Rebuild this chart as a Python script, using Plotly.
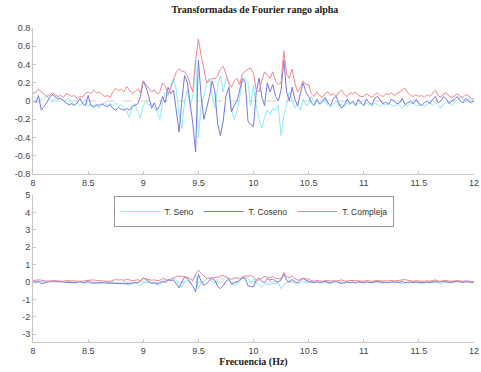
import numpy as np
import plotly.graph_objects as go

# Frequency grid (Hz), 0.025 Hz resolution over the alpha band
freq = np.round(np.arange(8.0, 12.0001, 0.025), 3)

# Sine transform
t_seno = [
    0.05, 0.02, -0.02, 0.01, 0.04, 0.06, 0.02, -0.01, 0.03, 0.05, 0.02, 0.00, 0.01, 0.03, -0.01, -0.04, -0.02, -0.05, -0.03, 0.02,
    -0.06, -0.03, -0.08, -0.05, -0.08, -0.04, -0.02, -0.05, -0.03, -0.05, -0.02, -0.06, -0.04, -0.08, -0.12, -0.18, -0.06, -0.03, -0.10, -0.19,
    -0.05, 0.00, -0.05, -0.03, -0.08, -0.12, -0.20, -0.02, 0.10, 0.05, 0.18, 0.25, 0.12, -0.15, -0.30, 0.00, 0.12, -0.05, 0.05, 0.45,
    -0.40, -0.05, 0.05, 0.20, 0.25, 0.05, -0.08, 0.15, 0.28, 0.10, 0.25, 0.22, -0.10, -0.20, -0.12, 0.05, 0.22, 0.25, 0.20, -0.05,
    0.18, -0.05, -0.20, -0.30, -0.18, -0.10, -0.15, -0.08, -0.10, -0.05, -0.38, -0.15, -0.05, 0.10, 0.02, -0.08, -0.03, -0.10, 0.02, -0.05,
    -0.03, 0.05, -0.02, 0.00, -0.04, -0.02, 0.02, -0.05, -0.07, -0.03, 0.00, -0.05, -0.03, -0.06, -0.02, -0.04, -0.01, -0.05, -0.03, -0.02,
    -0.05, -0.02, -0.04, -0.06, -0.02, -0.04, -0.06, -0.03, -0.05, -0.02, -0.04, -0.06, -0.03, -0.05, -0.08, -0.04, -0.06, -0.03, -0.02, -0.05,
    -0.05, -0.03, -0.06, -0.04, -0.02, -0.05, -0.02, -0.04, -0.08, -0.03, -0.01, -0.02, -0.05, -0.01, 0.02, 0.04, 0.02, -0.01, 0.03, 0.01,
    0.00,
]

# Cosine transform
t_coseno = [
    0.00, -0.02, 0.06, -0.10, -0.06, -0.02, 0.04, 0.07, 0.05, 0.02, 0.03, 0.00, -0.02, -0.04, -0.03, -0.05, -0.02, 0.03, -0.03, -0.05,
    0.06, -0.05, -0.06, -0.04, -0.05, -0.03, -0.05, -0.06, -0.04, -0.08, -0.10, -0.07, -0.09, -0.10, -0.08, -0.10, -0.06, -0.05, -0.03, 0.05,
    0.22, 0.15, 0.05, -0.08, -0.02, -0.10, -0.05, 0.05, -0.02, 0.15, 0.08, 0.12, -0.10, -0.34, 0.00, 0.28, 0.20, 0.00, -0.25, -0.56,
    0.45, 0.05, -0.20, -0.08, 0.05, 0.22, 0.10, -0.25, -0.38, -0.22, 0.05, 0.15, -0.12, -0.05, 0.00, 0.12, 0.25, 0.20, -0.22, -0.26,
    -0.28, 0.10, 0.25, 0.05, -0.05, 0.20, 0.10, 0.18, 0.05, 0.00, 0.12, 0.45, 0.10, 0.00, 0.15, 0.02, -0.05, 0.08, 0.20, 0.10,
    0.05, -0.02, -0.05, 0.02, -0.03, 0.00, 0.04, -0.02, -0.05, 0.03, 0.05, -0.03, -0.08, -0.04, 0.02, -0.03, 0.00, -0.05, 0.02, -0.02,
    -0.05, 0.02, -0.02, -0.04, 0.03, 0.05, 0.01, -0.03, -0.01, -0.04, 0.02, 0.00, -0.03, -0.02, 0.03, -0.04, -0.02, 0.00, -0.03, 0.02,
    -0.03, -0.05, -0.02, 0.00, -0.03, 0.02, 0.05, -0.02, 0.00, 0.05, 0.02, -0.03, 0.00, 0.02, 0.05, 0.00, -0.02, 0.03, 0.00, -0.02,
    0.00,
]

# Complex transform (magnitude)
t_compleja = [
    0.08, 0.10, 0.13, 0.10, 0.07, 0.05, 0.06, 0.09, 0.07, 0.05, 0.06, 0.04, 0.08, 0.07, 0.05, 0.06, 0.03, 0.05, 0.04, 0.08,
    0.10, 0.08, 0.12, 0.09, 0.10, 0.07, 0.05, 0.06, 0.04, 0.10, 0.14, 0.11, 0.13, 0.10, 0.16, 0.12, 0.08, 0.10, 0.13, 0.09,
    0.22, 0.18, 0.14, 0.10, 0.12, 0.08, 0.10, 0.20, 0.16, 0.08, 0.14, 0.24, 0.32, 0.35, 0.33, 0.32, 0.28, 0.18, 0.10, 0.45,
    0.68, 0.50, 0.35, 0.20, 0.22, 0.25, 0.24, 0.28, 0.35, 0.38, 0.30, 0.20, 0.15, 0.22, 0.25, 0.18, 0.30, 0.33, 0.35, 0.36,
    0.30, 0.12, 0.10, 0.22, 0.32, 0.28, 0.25, 0.32, 0.22, 0.18, 0.20, 0.55, 0.30, 0.25, 0.35, 0.20, 0.10, 0.15, 0.22, 0.18,
    0.18, 0.08, 0.05, 0.10, 0.06, 0.04, 0.08, 0.10, 0.06, 0.08, 0.05, 0.10, 0.12, 0.07, 0.05, 0.09, 0.08, 0.10, 0.06, 0.05,
    0.05, 0.08, 0.06, 0.04, 0.07, 0.09, 0.06, 0.05, 0.08, 0.07, 0.09, 0.06, 0.08, 0.10, 0.12, 0.14, 0.09, 0.06, 0.05, 0.07,
    0.05, 0.06, 0.04, 0.07, 0.05, 0.08, 0.12, 0.06, 0.04, 0.08, 0.09, 0.05, 0.04, 0.06, 0.08, 0.05, 0.04, 0.07, 0.06, 0.03,
    0.02,
]

series_names = ["T. Seno", "T. Coseno", "T. Compleja"]
series_colors = ["#8eeaf4", "#7878ea", "#f4848e"]

x_ticks = [8, 8.5, 9, 9.5, 10, 10.5, 11, 11.5, 12]
x_tick_text = ["8", "8.5", "9", "9.5", "10", "10.5", "11", "11.5", "12"]
top_y_ticks = [0.8, 0.6, 0.4, 0.2, 0, -0.2, -0.4, -0.6, -0.8]
top_y_text = ["0.8", "0.6", "0.4", "0.2", "0", "-0.2", "-0.4", "-0.6", "-0.8"]
bot_y_ticks = [5, 4, 3, 2, 1, 0, -1, -2, -3]
bot_y_text = ["5", "4", "3", "2", "1", "0", "-1", "-2", "-3"]

fig = go.Figure()
data = [t_seno, t_coseno, t_compleja]

for row_axes, show in (("", False), ("2", True)):
    for name, vals, col in zip(series_names, data, series_colors):
        fig.add_trace(go.Scatter(
            x=freq, y=vals, mode="lines", name=name,
            line=dict(color=col, width=1),
            xaxis="x" + row_axes, yaxis="y" + row_axes,
            showlegend=show,
        ))

axis_common = dict(
    showgrid=False, zeroline=False, showline=True, linecolor="#c8c8c8", linewidth=1,
    ticks="inside", ticklen=3, tickcolor="#c8c8c8", ticklabeloverflow="allow",
    automargin=False,
    tickfont=dict(family="Liberation Sans, Arial", size=9, color="#444444"),
)

fig.update_layout(
    width=481, height=372,
    margin=dict(l=33, r=7, t=28, b=30),
    paper_bgcolor="white", plot_bgcolor="white",
    title=dict(text="<b>Transformadas de Fourier rango alpha</b>",
               x=0.53, xanchor="center", y=0.985, yanchor="top",
               font=dict(family="Liberation Serif, Times New Roman", size=10, color="#222222")),
    xaxis=dict(range=[8, 12], tickvals=x_ticks, ticktext=x_tick_text,
               anchor="y", domain=[0, 1], **axis_common),
    yaxis=dict(range=[-0.8, 0.8], tickvals=top_y_ticks, ticktext=top_y_text,
               domain=[0.535, 1], anchor="x", **axis_common),
    xaxis2=dict(range=[8, 12], tickvals=x_ticks, ticktext=x_tick_text,
                anchor="y2", domain=[0, 1],
                title=dict(text="<b>Frecuencia (Hz)</b>", standoff=2,
                           font=dict(family="Liberation Serif, Times New Roman", size=10, color="#222222")),
                **axis_common),
    yaxis2=dict(range=[-3.45, 5], tickvals=bot_y_ticks, ticktext=bot_y_text,
                domain=[0, 0.468], anchor="x2", **axis_common),
    legend=dict(orientation="h", x=0.50, xanchor="center", y=0.465, yanchor="top",
                bgcolor="white", bordercolor="#999999", borderwidth=1,
                font=dict(family="Liberation Sans, Arial", size=8.5, color="#333333"),
                itemwidth=40, tracegroupgap=0),
    showlegend=True,
)

# dashed zero reference lines
for yref in ("y", "y2"):
    fig.add_shape(type="line", xref="x" if yref == "y" else "x2", yref=yref,
                  x0=8, x1=12, y0=0, y1=0, layer="below",
                  line=dict(color="#d0d0d0", width=1, dash="dash"))

fig.write_html("out.html")
